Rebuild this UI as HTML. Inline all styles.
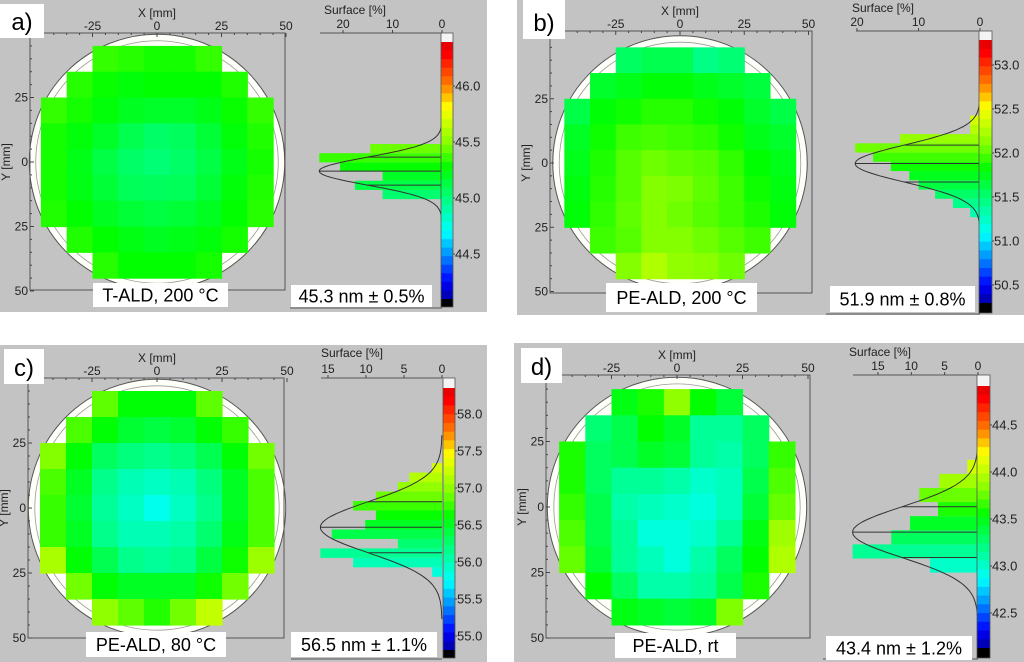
<!DOCTYPE html>
<html><head><meta charset="utf-8"><style>
html,body{margin:0;padding:0;background:#fff;}
svg{display:block;font-family:"Liberation Sans",sans-serif;}
</style></head><body>
<svg id="fig" width="1024" height="662" viewBox="0 0 1024 662" xmlns="http://www.w3.org/2000/svg"></svg>
<script>
// ---------- DATA ----------
const xTickVals = [-25, 0, 25, 50];
const yTickVals = [-25, 0, 25, 50];
const gridA = [
 [null,null,45.35,45.33,45.30,45.30,45.35,null,null],
 [null,45.33,45.28,45.25,45.27,45.27,45.27,45.32,null],
 [45.35,45.30,45.25,45.20,45.18,45.18,45.22,45.28,45.35],
 [45.30,45.25,45.18,45.10,45.05,45.07,45.15,45.25,45.32],
 [45.30,45.22,45.12,45.05,45.02,45.05,45.12,45.22,45.30],
 [45.30,45.23,45.15,45.08,45.07,45.08,45.15,45.25,45.32],
 [45.32,45.27,45.20,45.15,45.13,45.15,45.20,45.27,45.33],
 [null,45.32,45.27,45.23,45.20,45.22,45.25,45.30,null],
 [null,null,45.33,45.27,45.27,45.27,45.30,null,null]];
const gridB = [
 [null,null,51.55,51.60,51.60,51.45,51.50,null,null],
 [null,51.70,51.75,51.80,51.80,51.75,51.70,51.65,null],
 [51.62,51.80,51.85,51.90,51.90,51.85,51.80,51.70,51.62],
 [51.72,51.85,51.95,51.97,51.95,51.92,51.85,51.75,51.70],
 [51.75,51.88,52.00,52.05,52.02,52.00,51.92,51.82,51.75],
 [51.78,51.90,52.00,52.10,52.08,52.02,51.95,51.85,51.78],
 [51.80,51.92,52.02,52.10,52.05,52.00,51.95,51.88,51.80],
 [null,51.95,52.00,52.10,52.10,52.05,52.00,51.95,null],
 [null,null,52.10,52.25,52.15,52.12,52.05,null,null]];
const gridC = [
 [null,null,56.85,56.60,56.60,56.60,56.85,null,null],
 [null,56.80,56.60,56.45,56.40,56.45,56.60,56.75,null],
 [56.95,56.60,56.30,56.20,56.15,56.20,56.35,56.60,56.90],
 [56.80,56.50,56.15,56.00,55.95,56.00,56.20,56.50,56.80],
 [56.75,56.45,56.10,55.95,55.80,55.95,56.15,56.50,56.80],
 [56.75,56.50,56.15,56.00,56.00,56.05,56.25,56.55,56.80],
 [57.10,56.60,56.35,56.15,56.10,56.15,56.40,56.65,57.05],
 [null,56.90,56.60,56.50,56.50,56.50,56.65,56.90,null],
 [null,null,57.00,56.85,56.70,56.90,57.20,null,null]];
const gridD = [
 [null,null,43.50,43.60,43.85,43.55,43.40,null,null],
 [null,43.25,43.35,43.55,43.45,43.15,43.15,43.30,null],
 [43.60,43.30,43.35,43.45,43.40,43.15,43.10,43.30,43.65],
 [43.60,43.30,43.15,43.15,43.10,43.00,43.05,43.35,43.70],
 [43.65,43.35,43.10,43.05,43.00,42.95,43.05,43.40,43.75],
 [43.70,43.35,43.15,42.95,42.95,43.00,43.15,43.50,43.90],
 [43.75,43.40,43.15,43.05,42.95,43.10,43.30,43.55,43.95],
 [null,43.55,43.30,43.10,43.10,43.15,43.35,43.60,null],
 [null,null,43.50,43.45,43.40,43.45,43.80,null,null]];
const histA = [12, 17.6, 12, 20.6, 24.8, 14.5];
const histStartA = 44.99, histBinA = 0.082;
const histB = [1.6, 4.4, 7.3, 10, 11.5, 14.5, 17.4, 20.3, 13, 1.6, 1.6];
const histStartB = 51.27, histBinB = 0.105;
const histC = [1.3, 11.7, 16, 5.8, 14.5, 10.1, 8.7, 11.7, 8.7, 5.8, 4.3, 1.3];
const histStartC = 55.80, histBinC = 0.128;
const histD = [7.2, 18.8, 13, 10.2, 6, 8.8, 5.8, 1.6];
const histStartD = 42.93, histBinD = 0.15;
const fitA = [45.24, 0.125, 24.8];
const fitB = [51.88, 0.21, 20.3];
const fitC = [56.47, 0.345, 16];
const fitD = [43.36, 0.27, 18.8];
const pctTicksA = [20, 10, 0];
const pctTicksB = [20, 10, 0];
const pctTicksC = [15, 10, 5, 0];
const pctTicksD = [15, 10, 5, 0];
const cbarTicksA = [46.0, 45.5, 45.0, 44.5];
const cbarTicksB = [53.0, 52.5, 52.0, 51.5, 51.0, 50.5];
const cbarTicksC = [58.0, 57.5, 57.0, 56.5, 56.0, 55.5, 55.0];
const cbarTicksD = [44.5, 44.0, 43.5, 43.0, 42.5];
const labelsA = ["a)", "T-ALD, 200 °C", "45.3 nm ± 0.5%"];
const labelsB = ["b)", "PE-ALD, 200 °C", "51.9 nm ± 0.8%"];
const labelsC = ["c)", "PE-ALD, 80 °C", "56.5 nm ± 1.1%"];
const labelsD = ["d)", "PE-ALD, rt", "43.4 nm ± 1.2%"];

// ---------- LAYOUT ----------
const panels = [
 {id:'a', grid:gridA, hist:histA, hs:histStartA, hb:histBinA, fit:fitA, pt:pctTicksA, ct:cbarTicksA, lab:labelsA,
  bg:[0,0,487,312], lb:[0,4,44,34], box:[30,33,285,290], cx:157, cy:162, ppm:2.58,
  hl:320, zx:442, ppp:4.95, cb:[441,33,453,307], cTop:42, cBot:299, vRef:45.5, yRef:142, ppu:112,
  t1:[93,283,135,24], t2:[291,285,141,22], sx:355, sy:14},
 {id:'b', grid:gridB, hist:histB, hs:histStartB, hb:histBinB, fit:fitB, pt:pctTicksB, ct:cbarTicksB, lab:labelsB,
  bg:[517,0,507,315], lb:[523,0,42,39], box:[550,31,812,293], cx:680, cy:163, ppm:2.57,
  hl:856, zx:980, ppp:6.15, cb:[979,31,992,313], cTop:40, cBot:303, vRef:52.0, yRef:153, ppu:88,
  t1:[606,283,151,29], t2:[830,286,145,26], sx:883, sy:12},
 {id:'c', grid:gridC, hist:histC, hs:histStartC, hb:histBinC, fit:fitC, pt:pctTicksC, ct:cbarTicksC, lab:labelsC,
  bg:[0,345,487,317], lb:[4,349,40,35], box:[28,378,284,638], cx:157, cy:508, ppm:2.6,
  hl:321, zx:442, ppp:7.6, cb:[443,378,455,658], cTop:388, cBot:650, vRef:56.5, yRef:525, ppu:74,
  t1:[86,632,140,25], t2:[291,632,146,25], sx:352, sy:357},
 {id:'d', grid:gridD, hist:histD, hs:histStartD, hb:histBinD, fit:fitD, pt:pctTicksD, ct:cbarTicksD, lab:labelsD,
  bg:[514,343,510,319], lb:[521,348,41,35], box:[546,375,810,638], cx:677, cy:507, ppm:2.62,
  hl:853, zx:978, ppp:6.67, cb:[977,375,990,658], cTop:386, cBot:648, vRef:43.5, yRef:519, ppu:94,
  t1:[615,633,121,25], t2:[826,636,146,24], sx:880, sy:356}
];

const stops = [[0,[0,0,160]],[0.067,[0,0,255]],[0.16,[0,128,255]],[0.26,[0,255,255]],[0.39,[0,255,128]],
 [0.51,[0,255,0]],[0.6,[128,255,0]],[0.745,[255,255,0]],[0.83,[255,128,0]],[0.95,[255,0,0]],[1,[224,0,0]]];
function cmap(t){
  t=Math.max(0,Math.min(1,t));
  for(let i=1;i<stops.length;i++){
    if(t<=stops[i][0]){
      const a=stops[i-1],b=stops[i],f=(t-a[0])/(b[0]-a[0]);
      const c=a[1].map((v,k)=>Math.round(v+(b[1][k]-v)*f));
      return 'rgb('+c.join(',')+')';
    }
  }
  return 'rgb(224,0,0)';
}
const NS='http://www.w3.org/2000/svg';
const svg=document.getElementById('fig');
function mk(parent,tag,attrs,text){
  const e=document.createElementNS(NS,tag);
  for(const k in attrs) e.setAttribute(k,attrs[k]);
  if(text!==undefined) e.textContent=text;
  parent.appendChild(e);
  return e;
}

panels.forEach(p=>{
  const g=mk(svg,'g',{});
  
  
  const vy=v=>p.yRef-(v-p.vRef)*p.ppu;
  const vmax=p.vRef+(p.yRef-p.cTop)/p.ppu, vmin=p.vRef-(p.cBot-p.yRef)/p.ppu;
  const col=v=>cmap((v-vmin)/(vmax-vmin));
  const mx=mm=>p.cx+mm*p.ppm, my=mm=>p.cy+mm*p.ppm;
  const px=pct=>p.zx-pct*p.ppp;

  const bg=mk(g,'rect',{x:p.bg[0],y:p.bg[1],width:p.bg[2],height:p.bg[3],fill:'#c3c3c3'});
  
  

  const w=mk(g,'circle',{cx:p.cx,cy:p.cy,r:49.5*p.ppm,fill:'#fffffa',stroke:'#555','stroke-width':1});
  
  
  const w2=mk(g,'circle',{cx:p.cx,cy:p.cy,r:47*p.ppm,fill:'none',stroke:'#999','stroke-width':0.8});
  
  

  p.grid.forEach((row,r)=>row.forEach((v,c)=>{
    if(v===null) return;
    const cell=mk(g,'rect',{x:mx(-45+c*10),y:my(-45+r*10),width:10*p.ppm+0.6,height:10*p.ppm+0.6,fill:col(v)});
    
    
  }));

  const [L,T,R,B]=p.box;
  const box=mk(g,'rect',{x:L,y:T,width:R-L,height:B-T,fill:'none',stroke:'#555','stroke-width':1});
  
  
  for(let mm=-45;mm<=50;mm+=5){
    const major=mm%25===0;
    const t1=mk(g,'line',{x1:mx(mm),y1:T,x2:mx(mm),y2:T+(major?4:2),stroke:'#444','stroke-width':1});
    
    
    const t2=mk(g,'line',{x1:L,y1:my(mm),x2:L+(major?4:2),y2:my(mm),stroke:'#444','stroke-width':1});
    
    
  }
  xTickVals.forEach(v=>{
    const t=mk(g,'text',{x:mx(v),y:T-3,'font-size':12,'text-anchor':'middle',fill:'#222'},String(v));
    
    
  });
  yTickVals.forEach(v=>{
    const t=mk(g,'text',{x:L-2,y:my(v)+4,'font-size':12,'text-anchor':'end',fill:'#222'},String(Math.abs(v)));
    
    
  });
  const xt=mk(g,'text',{x:p.cx,y:T-16,'font-size':12,'text-anchor':'middle',fill:'#222'},'X [mm]');
  
  
  const yt=mk(g,'text',{x:L-20,y:p.cy,'font-size':12,'text-anchor':'middle',fill:'#222',transform:'rotate(-90 '+(L-20)+' '+p.cy+')'},'Y [mm]');
  
  

  p.hist.forEach((pct,i)=>{
    const v0=p.hs+i*p.hb, v1=v0+p.hb;
    const b=mk(g,'rect',{x:px(pct),y:vy(v1),width:pct*p.ppp,height:vy(v0)-vy(v1),fill:col((v0+v1)/2)});
    
    
  });
  const [mu,sg,pk]=p.fit;
  const gx=v=>px(pk*Math.exp(-0.5*((v-mu)/sg)**2));
  let d='';
  for(let k=0;k<=120;k++){const v=mu-3.6*sg+k*7.2*sg/120; d+=(k?'L':'M')+gx(v).toFixed(1)+','+vy(v).toFixed(1);}
  const curve=mk(g,'path',{d:d,fill:'none',stroke:'#333','stroke-width':1});
  
  
  [mu-sg,mu,mu+sg].forEach(v=>{
    const l=mk(g,'line',{x1:gx(v),y1:vy(v),x2:p.zx,y2:vy(v),stroke:'#333','stroke-width':1});
    
    
  });
  const ha=mk(g,'line',{x1:p.hl,y1:p.cb[1],x2:p.zx,y2:p.cb[1],stroke:'#555','stroke-width':1});
  
  
  const hb=mk(g,'line',{x1:p.hl-30,y1:p.cb[3]+1,x2:p.zx,y2:p.cb[3]+1,stroke:'#555','stroke-width':1});
  
  
  p.pt.forEach(v=>{
    const tk=mk(g,'line',{x1:px(v),y1:p.cb[1]-3,x2:px(v),y2:p.cb[1],stroke:'#444'});
    
    
    const t=mk(g,'text',{x:px(v),y:p.cb[1]-5,'font-size':12,'text-anchor':'middle',fill:'#222'},String(v));
    
    
  });
  const st=mk(g,'text',{x:p.sx,y:p.sy,'font-size':12,'text-anchor':'middle',fill:'#222'},'Surface [%]');
  
  

  const [cx0,cy0,cx1,cy1]=p.cb;
  const cbw=mk(g,'rect',{x:cx0,y:cy0,width:cx1-cx0,height:p.cTop-cy0,fill:'#f4f4f4'});
  
  
  const nb=30, bh=(p.cBot-p.cTop)/nb;
  for(let i=0;i<nb;i++){
    const s=mk(g,'rect',{x:cx0,y:p.cTop+i*bh,width:cx1-cx0,height:bh+0.5,fill:cmap(1-(i+0.5)/nb)});
    
    
  }
  const cbk=mk(g,'rect',{x:cx0,y:p.cBot,width:cx1-cx0,height:cy1-p.cBot,fill:'#000'});
  
  
  const cbf=mk(g,'rect',{x:cx0,y:cy0,width:cx1-cx0,height:cy1-cy0,fill:'none',stroke:'#555','stroke-width':0.8});
  
  
  p.ct.forEach(v=>{
    const t=mk(g,'text',{x:cx1+2,y:vy(v)+4.5,'font-size':13,fill:'#222'},v.toFixed(1));
    
    
    const tk=mk(g,'line',{x1:cx1,y1:vy(v),x2:cx1+2,y2:vy(v),stroke:'#444'});
    
    
  });

  const lb=mk(g,'rect',{x:p.lb[0],y:p.lb[1],width:p.lb[2],height:p.lb[3],fill:'#fff'});
  
  
  const lt=mk(g,'text',{x:p.lb[0]+p.lb[2]/2,y:p.lb[1]+p.lb[3]-8,'font-size':24,'text-anchor':'middle',fill:'#000'},p.lab[0]);
  
  
  [[p.t1,p.lab[1],'process-label'],[p.t2,p.lab[2],'thickness-label']].forEach(([r,txt,nm])=>{
    const rb=mk(g,'rect',{x:r[0],y:r[1],width:r[2],height:r[3],fill:'#fff'});
    
    
    const tt=mk(g,'text',{x:r[0]+r[2]/2,y:r[1]+r[3]/2+6.5,'font-size':18,'text-anchor':'middle',fill:'#000'},txt);
    
    
  });
});
</script>
</body></html>
